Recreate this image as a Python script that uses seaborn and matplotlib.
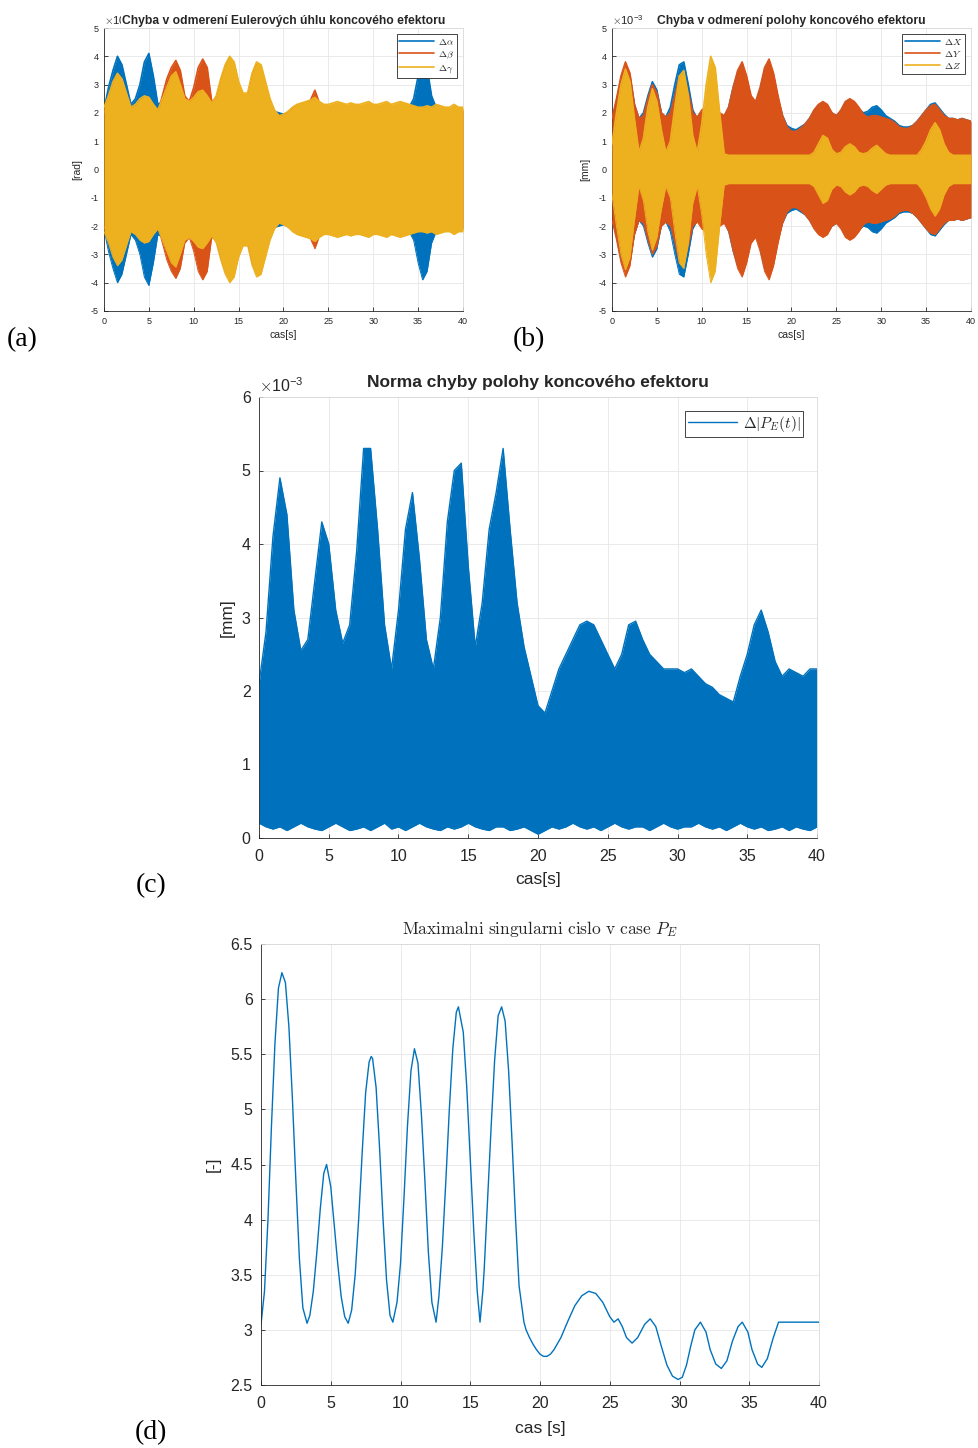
import numpy as np
import matplotlib
matplotlib.use("Agg")
import matplotlib.pyplot as plt
import seaborn as sns
from matplotlib.ticker import FuncFormatter

# ---------------------------------------------------------------- data
# common time grid for the error envelopes [s]
t_grid = np.arange(0, 40.01, 0.5)

# (a) Euler angle error amplitude envelopes (x 1e-3 rad)
euler_alpha = [2.1, 2.9, 3.5, 4.0, 3.7, 3.0, 2.3, 2.5, 3.0, 3.8,
               4.1, 3.3, 2.3, 2.4, 2.8, 3.1, 3.3, 2.9, 2.4, 2.3,
               2.45, 2.65, 2.7, 2.5, 2.25, 2.5, 3.1, 3.6, 3.9, 3.7,
               3.0, 2.6, 2.6, 3.3, 3.7, 3.6, 3.0, 2.4, 2.05, 2.0,
               1.95, 2.0, 2.1, 2.2, 2.25, 2.3, 2.35, 2.45, 2.3, 2.2,
               2.2, 2.25, 2.3, 2.25, 2.2, 2.25, 2.2, 2.2, 2.25, 2.3,
               2.2, 2.2, 2.25, 2.3, 2.2, 2.25, 2.3, 2.25, 2.2, 2.5,
               3.3, 3.9, 3.6, 2.6, 2.2, 2.15, 2.1, 2.1, 2.2, 2.1, 2.1]
euler_beta = [2.0, 2.5, 3.0, 3.3, 3.1, 2.6, 2.1, 2.2, 2.4, 2.5,
              2.45, 2.2, 2.0, 2.6, 3.2, 3.6, 3.85, 3.5, 2.6, 2.4,
              2.9, 3.6, 3.9, 3.6, 2.4, 2.5, 3.1, 3.6, 3.9, 3.7,
              3.0, 2.6, 2.6, 3.3, 3.7, 3.6, 3.0, 2.4, 2.0, 1.85,
              1.9, 2.0, 2.15, 2.25, 2.3, 2.35, 2.45, 2.8, 2.35, 2.2,
              2.2, 2.25, 2.3, 2.25, 2.2, 2.25, 2.2, 2.2, 2.25, 2.3,
              2.2, 2.2, 2.25, 2.3, 2.2, 2.25, 2.3, 2.25, 2.2, 2.15,
              2.1, 2.1, 2.15, 2.1, 2.2, 2.15, 2.1, 2.1, 2.2, 2.1, 2.1]
euler_gamma = [2.2, 2.6, 3.1, 3.4, 3.2, 2.7, 2.2, 2.3, 2.5, 2.6,
               2.55, 2.3, 2.1, 2.5, 2.9, 3.3, 3.45, 3.0, 2.5, 2.4,
               2.55, 2.75, 2.8, 2.6, 2.35, 2.6, 3.2, 3.7, 4.0, 3.8,
               3.1, 2.7, 2.7, 3.4, 3.8, 3.7, 3.1, 2.5, 2.1, 1.9,
               1.95, 2.05, 2.2, 2.3, 2.35, 2.4, 2.45, 2.55, 2.4, 2.3,
               2.3, 2.35, 2.4, 2.35, 2.3, 2.35, 2.3, 2.3, 2.35, 2.4,
               2.3, 2.3, 2.35, 2.4, 2.3, 2.35, 2.4, 2.35, 2.3, 2.25,
               2.2, 2.2, 2.25, 2.2, 2.3, 2.25, 2.2, 2.2, 2.3, 2.2, 2.2]

# (b) position error amplitude envelopes (x 1e-3 mm)
pos_x = [1.7, 2.4, 3.2, 3.6, 3.3, 2.3, 1.8, 2.0, 2.6, 3.1,
         2.8, 2.0, 1.85, 2.2, 3.0, 3.7, 3.8, 3.0, 2.1, 1.8,
         2.0, 2.1, 2.2, 2.1, 1.95, 1.85, 2.2, 2.9, 3.4, 3.7,
         3.2, 2.5, 2.3, 2.8, 3.5, 3.8, 3.3, 2.5, 1.9, 1.55,
         1.45, 1.4, 1.5, 1.6, 1.8, 2.05, 2.25, 2.35, 2.25, 2.0,
         1.9, 2.05, 2.35, 2.45, 2.35, 2.15, 2.0, 2.05, 2.2, 2.25,
         2.1, 1.9, 1.8, 1.7, 1.55, 1.5, 1.5, 1.55, 1.7, 1.9,
         2.1, 2.3, 2.35, 2.15, 1.95, 1.8, 1.8, 1.75, 1.8, 1.75, 1.7]
pos_y = [1.8, 2.5, 3.3, 3.8, 3.4, 2.3, 1.8, 1.9, 2.5, 3.0,
         2.7, 2.0, 1.85, 2.0, 2.6, 3.3, 3.4, 2.7, 2.0, 1.85,
         2.1, 2.2, 2.3, 2.2, 2.0, 1.9, 2.2, 2.9, 3.5, 3.8,
         3.3, 2.6, 2.4, 2.9, 3.6, 3.9, 3.4, 2.6, 1.9, 1.5,
         1.35, 1.35, 1.45, 1.6, 1.8, 2.1, 2.3, 2.4, 2.3, 2.0,
         1.9, 2.1, 2.4, 2.5, 2.4, 2.2, 1.95, 1.85, 1.9, 1.9,
         1.85, 1.8, 1.75, 1.65, 1.5, 1.45, 1.45, 1.55, 1.7, 1.9,
         2.1, 2.25, 2.3, 2.1, 1.9, 1.8, 1.8, 1.75, 1.8, 1.75, 1.7]
pos_z = [0.9, 2.0, 3.0, 3.55, 3.1, 1.8, 0.6, 1.1, 2.2, 2.85,
         2.4, 1.4, 0.6, 1.0, 2.2, 3.3, 3.5, 2.6, 1.2, 0.6,
         1.6, 3.0, 4.0, 3.6, 2.0, 0.55, 0.5, 0.5, 0.5, 0.5,
         0.5, 0.5, 0.5, 0.5, 0.5, 0.5, 0.5, 0.5, 0.5, 0.5,
         0.5, 0.5, 0.5, 0.5, 0.5, 0.6, 0.9, 1.2, 1.1, 0.7,
         0.55, 0.6, 0.8, 0.9, 0.8, 0.6, 0.55, 0.6, 0.75, 0.85,
         0.7, 0.55, 0.5, 0.5, 0.5, 0.5, 0.5, 0.5, 0.5, 0.7,
         1.0, 1.4, 1.65, 1.4, 0.9, 0.6, 0.5, 0.5, 0.5, 0.5, 0.5]

# (c) norm of the position error: upper / lower envelope (x 1e-3 mm)
norm_upper = [2.1, 2.8, 4.1, 4.9, 4.4, 3.1, 2.55, 2.7, 3.5, 4.3,
              4.0, 3.1, 2.65, 2.9, 3.9, 5.3, 5.3, 4.2, 2.9, 2.3,
              3.1, 4.2, 4.7, 3.8, 2.7, 2.3, 3.0, 4.3, 5.0, 5.1,
              3.7, 2.6, 3.2, 4.2, 4.7, 5.3, 4.2, 3.2, 2.6, 2.2,
              1.8, 1.7, 2.0, 2.3, 2.5, 2.7, 2.9, 2.95, 2.9, 2.7,
              2.5, 2.3, 2.5, 2.9, 2.95, 2.7, 2.5, 2.4, 2.3, 2.3,
              2.3, 2.25, 2.3, 2.2, 2.1, 2.05, 1.95, 1.9, 1.85, 2.2,
              2.5, 2.9, 3.1, 2.8, 2.4, 2.2, 2.3, 2.25, 2.2, 2.3, 2.3]
norm_lower = [0.2, 0.15, 0.12, 0.15, 0.1, 0.15, 0.2, 0.15, 0.12, 0.1,
              0.15, 0.2, 0.15, 0.1, 0.12, 0.15, 0.1, 0.15, 0.2, 0.12,
              0.15, 0.1, 0.15, 0.2, 0.15, 0.12, 0.1, 0.15, 0.12, 0.15,
              0.2, 0.15, 0.12, 0.1, 0.15, 0.15, 0.1, 0.12, 0.15, 0.1,
              0.05, 0.1, 0.15, 0.12, 0.15, 0.2, 0.15, 0.12, 0.15, 0.1,
              0.15, 0.2, 0.15, 0.12, 0.15, 0.15, 0.1, 0.15, 0.2, 0.15,
              0.12, 0.15, 0.15, 0.2, 0.15, 0.12, 0.15, 0.1, 0.15, 0.2,
              0.15, 0.12, 0.15, 0.1, 0.12, 0.15, 0.1, 0.15, 0.12, 0.1, 0.15]

# (d) maximal singular value over time
sv_time = [0, 0.25, 0.5, 0.75, 1.0, 1.25, 1.5, 1.75, 2.0, 2.25, 2.5, 2.75, 3.0, 3.3,
           3.5, 3.75, 4.0, 4.25, 4.5, 4.7, 5.0, 5.25, 5.5, 5.75, 6.0, 6.25,
           6.5, 6.75, 7.0, 7.25, 7.5, 7.75, 7.9, 8.0, 8.25, 8.5, 8.75, 9.0, 9.25, 9.45,
           9.75, 10.0, 10.25, 10.5, 10.75, 11.0, 11.25, 11.5, 11.75, 12.0, 12.25, 12.55,
           12.75, 13.0, 13.25, 13.5, 13.75, 14.0, 14.15, 14.5, 14.75, 15.0, 15.25, 15.5, 15.7,
           15.9, 16.0, 16.25, 16.5, 16.75, 17.0, 17.25, 17.5, 17.75, 18.0, 18.25, 18.5, 18.85,
           19.0, 19.25, 19.5, 19.75, 20.0, 20.25, 20.5, 20.75, 21.0, 21.5, 22.0, 22.5,
           23.0, 23.5, 24.0, 24.5, 25.0, 25.3, 25.6, 25.9, 26.2, 26.6, 27.0, 27.5,
           27.9, 28.3, 28.7, 29.1, 29.5, 29.9, 30.2, 30.5, 30.8, 31.1, 31.5, 31.9,
           32.2, 32.6, 33.0, 33.4, 33.8, 34.2, 34.5, 34.9, 35.2, 35.6, 35.9, 36.3,
           36.7, 37.1, 37.5, 40.0]
sv_value = [3.05, 3.35, 4.0, 4.85, 5.6, 6.1, 6.24, 6.15, 5.75, 5.1, 4.35, 3.65, 3.2, 3.06,
            3.13, 3.35, 3.7, 4.1, 4.42, 4.5, 4.3, 3.95, 3.6, 3.3, 3.12, 3.06,
            3.18, 3.5, 4.0, 4.6, 5.15, 5.43, 5.48, 5.46, 5.2, 4.65, 4.0, 3.45, 3.13, 3.07,
            3.25, 3.6, 4.2, 4.85, 5.35, 5.55, 5.42, 4.95, 4.35, 3.7, 3.25, 3.07,
            3.3, 3.75, 4.35, 5.0, 5.55, 5.88, 5.93, 5.7, 5.2, 4.55, 3.9, 3.35, 3.07,
            3.35, 3.55, 4.2, 4.85, 5.45, 5.85, 5.93, 5.8, 5.35, 4.7, 4.0, 3.4, 3.07,
            3.0, 2.93, 2.87, 2.82, 2.78, 2.76, 2.76, 2.78, 2.82, 2.93, 3.08, 3.22,
            3.31, 3.35, 3.33, 3.25, 3.12, 3.07, 3.1, 3.03, 2.93, 2.88, 2.93, 3.05,
            3.1, 3.03, 2.85, 2.68, 2.58, 2.55, 2.57, 2.68, 2.85, 3.0, 3.07, 2.98,
            2.82, 2.69, 2.65, 2.72, 2.9, 3.03, 3.07, 2.98, 2.82, 2.69, 2.66, 2.74,
            2.92, 3.07, 3.07, 3.07]

x_ticks = [0, 5, 10, 15, 20, 25, 30, 35, 40]

for arr in (euler_alpha, euler_beta, euler_gamma, pos_x, pos_y, pos_z,
            norm_upper, norm_lower):
    assert len(arr) == len(t_grid)
assert len(sv_time) == len(sv_value)

# ---------------------------------------------------------------- style
BLUE, ORANGE, YELLOW = "#0072BD", "#D95319", "#EDB120"
DARK = "#262626"
GRID = "#e6e6e6"

sns.set_theme(style="whitegrid")
plt.rcParams.update({
    "font.family": ["Liberation Sans", "DejaVu Sans"],
    "mathtext.fontset": "cm",
    "axes.edgecolor": DARK,
    "axes.linewidth": 0.6,
    "axes.facecolor": "white",
    "grid.color": GRID,
    "grid.linewidth": 0.6,
    "xtick.color": DARK,
    "ytick.color": DARK,
    "xtick.direction": "in",
    "ytick.direction": "in",
    "xtick.bottom": True,
    "ytick.left": True,
    "xtick.major.size": 3,
    "ytick.major.size": 3,
    "xtick.major.width": 0.6,
    "ytick.major.width": 0.6,
})

W, H = 979, 1448
fig = plt.figure(figsize=(W / 100, H / 100), dpi=100)


def px_axes(x0, y0, x1, y1):
    return fig.add_axes([x0 / W, 1 - y1 / H, (x1 - x0) / W, (y1 - y0) / H])


def frame(ax, ylim, yticks, fs, xpad, ypad):
    ax.set_xlim(0, 40)
    ax.set_ylim(*ylim)
    ax.set_xticks(x_ticks)
    ax.set_yticks(yticks)
    ax.yaxis.set_major_formatter(FuncFormatter(lambda v, p: "%g" % v))
    ax.xaxis.set_major_formatter(FuncFormatter(lambda v, p: "%g" % v))
    ax.grid(True, color=GRID, lw=0.6, zorder=0)
    ax.set_axisbelow(True)
    for s in ("top", "right"):
        ax.spines[s].set_color("#d9d9d9")
    for s in ("left", "bottom"):
        ax.spines[s].set_color(DARK)
    ax.tick_params(labelsize=fs, colors=DARK)
    ax.tick_params(axis="x", pad=xpad)
    ax.tick_params(axis="y", pad=ypad)


def band(ax, lo, hi, color, label, z):
    # filled region between the envelopes, with its edges on the same layer
    ax.fill_between(t_grid, lo, hi, color=color, lw=0, zorder=z)
    sns.lineplot(x=t_grid, y=hi, ax=ax, color=color, lw=0.7, label=label,
                 zorder=z)
    sns.lineplot(x=t_grid, y=lo, ax=ax, color=color, lw=0.7, legend=False,
                 zorder=z)


def small_legend(ax, fs, hl):
    h, l = ax.get_legend_handles_labels()
    for hh in h:
        hh.set_linewidth(1.2)
    leg = ax.legend(h, l, loc="upper right", fontsize=fs, handlelength=hl,
                    fancybox=False, framealpha=1, edgecolor=DARK,
                    borderpad=0.3, labelspacing=0.2, handletextpad=0.4,
                    borderaxespad=0.6)
    leg.get_frame().set_linewidth(0.6)
    leg.set_zorder(10)
    return leg


# ---------------------------------------------------------------- (a)
ax_a = px_axes(104, 28, 463, 311)
for i, (vals, col, lab) in enumerate(((euler_alpha, BLUE, r"$\Delta\alpha$"),
                                      (euler_beta, ORANGE, r"$\Delta\beta$"),
                                      (euler_gamma, YELLOW, r"$\Delta\gamma$"))):
    v = np.asarray(vals)
    band(ax_a, -v, v, col, lab, 2 + i)
frame(ax_a, (-5, 5), range(-5, 6), 6.5, 4, 4)
small_legend(ax_a, 7, 3.6)
ax_a.set_xlabel("cas[s]", fontsize=7.5, color=DARK, labelpad=3)
ax_a.set_ylabel("[rad]", fontsize=7.5, color=DARK, labelpad=6)
ax_a.text(0.0, 1.005, r"$\times\mathregular{10^{-3}}$", transform=ax_a.transAxes,
          ha="left", va="bottom", fontsize=8, color=DARK)
ax_a.set_title("Chyba v odmerení Eulerových úhlu koncového efektoru",
               fontsize=8.7, fontweight="bold", pad=3,
               bbox=dict(facecolor="white", edgecolor="none", pad=0.3))

# ---------------------------------------------------------------- (b)
ax_b = px_axes(612, 28, 971, 311)
for i, (vals, col, lab) in enumerate(((pos_x, BLUE, r"$\Delta X$"),
                                      (pos_y, ORANGE, r"$\Delta Y$"),
                                      (pos_z, YELLOW, r"$\Delta Z$"))):
    v = np.asarray(vals)
    band(ax_b, -v, v, col, lab, 2 + i)
frame(ax_b, (-5, 5), range(-5, 6), 6.5, 4, 4)
small_legend(ax_b, 7, 3.6)
ax_b.set_xlabel("cas[s]", fontsize=7.5, color=DARK, labelpad=3)
ax_b.set_ylabel("[mm]", fontsize=7.5, color=DARK, labelpad=6)
ax_b.text(0.0, 1.005, r"$\times\mathregular{10^{-3}}$", transform=ax_b.transAxes,
          ha="left", va="bottom", fontsize=8, color=DARK)
ax_b.set_title("Chyba v odmerení polohy koncového efektoru",
               fontsize=8.7, fontweight="bold", pad=3)

# ---------------------------------------------------------------- (c)
ax_c = px_axes(259, 397, 817, 838)
band(ax_c, np.asarray(norm_lower), np.asarray(norm_upper), BLUE,
     r"$\Delta|P_E(t)|$", 2)
frame(ax_c, (0, 6), range(0, 7), 11.5, 8, 6)
h, l = ax_c.get_legend_handles_labels()
for hh in h:
    hh.set_linewidth(1.0)
leg_c = ax_c.legend(h, l, loc="upper right", fontsize=11, handlelength=3.2,
                    fancybox=False, framealpha=1, edgecolor=DARK,
                    borderpad=0.2, handletextpad=0.4, borderaxespad=0.9)
leg_c.get_frame().set_linewidth(0.6)
leg_c.set_zorder(10)
ax_c.set_xlabel("cas[s]", fontsize=12.5, color=DARK, labelpad=6)
ax_c.set_ylabel("[mm]", fontsize=12.5, color=DARK, labelpad=5)
ax_c.text(0.0, 1.005, r"$\times\mathregular{10^{-3}}$", transform=ax_c.transAxes,
          ha="left", va="bottom", fontsize=11.5, color=DARK)
ax_c.set_title("Norma chyby polohy koncového efektoru",
               fontsize=12.5, fontweight="bold", pad=7)

# ---------------------------------------------------------------- (d)
ax_d = px_axes(261, 944, 819, 1385)
sns.lineplot(x=sv_time, y=sv_value, ax=ax_d, color=BLUE, lw=1.0, sort=False)
frame(ax_d, (2.5, 6.5), np.arange(2.5, 6.51, 0.5), 11.5, 8, 6)
ax_d.set_xlabel("cas [s]", fontsize=12.5, color=DARK, labelpad=7)
ax_d.set_ylabel("[-]", fontsize=12.5, color=DARK, labelpad=7)
ax_d.set_title(r"$\mathrm{Maximalni\ singularni\ cislo\ v\ case}\ P_E$",
               fontsize=12.5, pad=7, color=DARK)

# ---------------------------------------------------------------- panel letters
for lab, (x, y) in (("(a)", (22, 340)), ("(b)", (529, 340)),
                    ("(c)", (151, 886)), ("(d)", (151, 1433))):
    fig.text(x / W, 1 - y / H, lab, family="Liberation Serif", fontsize=20,
             ha="center", va="center", color="black")

fig.savefig("out.png", dpi=100)
